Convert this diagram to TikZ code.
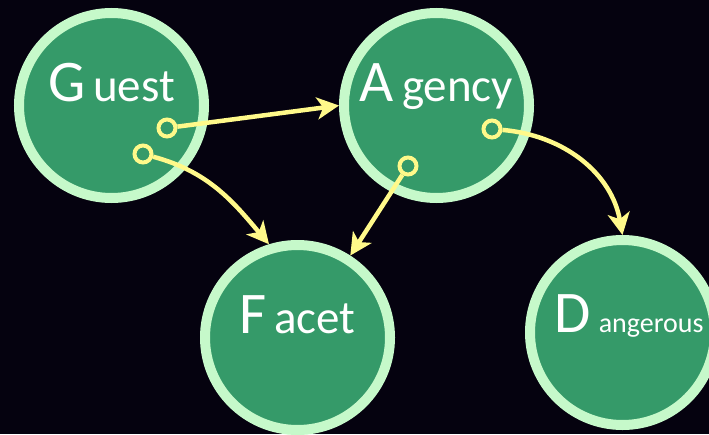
\documentclass[tikz,border=0pt]{standalone}
\usepackage{fontspec}
\setmainfont{Carlito}
\usepackage{tikz}
\usetikzlibrary{arrows.meta}

\definecolor{bgnavy}{HTML}{05020F}
\definecolor{nodegreen}{HTML}{359A69}
\definecolor{rimgreen}{HTML}{C6F9CA}
\definecolor{linkyellow}{HTML}{FFF98A}

% big initial, then the rest of the word
\newcommand{\initword}[3][47]{{\fontsize{59}{59}\selectfont #2}\hspace{8pt}{\fontsize{#1}{#1}\selectfont #3}}

\begin{document}
\begin{tikzpicture}[x=1pt,y=-1pt,
  topic/.style={circle,draw=rimgreen,fill=nodegreen,line width=10pt,minimum size=185pt,inner sep=0pt,text=white,text height=0pt,text depth=9pt},
  port/.style={circle,draw=linkyellow,line width=4pt,minimum size=17pt,inner sep=0pt},
  link/.style={draw=linkyellow,line width=4.5pt,-{Stealth[length=22pt,width=22pt,inset=6pt]}}]
\fill[bgnavy] (0,0) rectangle (709,434);
\useasboundingbox (0,0) rectangle (709,434);
\node[topic] (guest) at (111.5,105.5) {\initword{G}{uest}};
\node[topic] (agency) at (436.5,105.5) {\initword{A}{gency}};
\node[topic] (facet) at (297.5,337.5) {\initword{F}{acet}};
\node[topic,text depth=0pt] (danger) at (622.5,332.5) {\hspace*{13pt}\initword[28]{D}{angerous}};
\node[port] (g1) at (167,128) {};
\node[port] (g2) at (143,154) {};
\node[port] (a1) at (408,166) {};
\node[port] (a2) at (492,129) {};
\draw[link] (g1) -- (agency.west);
\draw[link] (a1) -- (facet);
\draw[link] (g2) to[out=-15,in=130] (facet.107);
\draw[link] (a2) to[out=-5,in=100] (danger.north); % bends down into danger
\end{tikzpicture}
\end{document}
